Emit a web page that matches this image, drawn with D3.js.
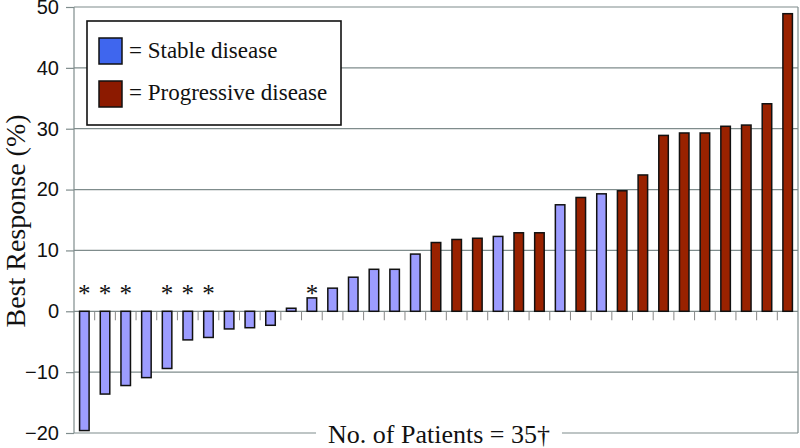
<!DOCTYPE html>
<html>
<head>
<meta charset="utf-8">
<script src="https://cdn.jsdelivr.net/npm/d3@7"></script>
<style>
  body { margin: 0; background: #fff; }
  svg { display: block; }
</style>
</head>
<body>
<svg id="chart" width="800" height="448"></svg>
<script>
// best response per patient, sorted
const responses = [-19.6, -13.6, -12.2, -10.9, -9.4, -4.7, -4.3, -2.9, -2.7, -2.3,
  0.5, 2.2, 3.8, 5.6, 6.9, 6.9, 9.4, 11.3, 11.8, 12.0,
  12.3, 12.9, 12.9, 17.5, 18.7, 19.3, 19.8, 22.4, 28.9, 29.3,
  29.3, 30.4, 30.6, 34.1, 48.9];
// S = stable disease, P = progressive disease
const status = ['S','S','S','S','S','S','S','S','S','S',
  'S','S','S','S','S','S','S','P','P','P',
  'S','P','P','S','P','S','P','P','P','P',
  'P','P','P','P','P'];
const starred = [0, 1, 2, 4, 5, 6, 11];
const yTicks = [-20, -10, 0, 10, 20, 30, 40, 50];
const legendItems = ['= Stable disease', '= Progressive disease'];

const SERIF = '"Liberation Serif", "Times New Roman", Times, serif';
const SANS = '"Liberation Sans", Arial, Helvetica, sans-serif';

const barFill = { S: '#9c9cff', P: '#992200' };
const swatchFill = { S: '#3f66ee', P: '#8c1a00' };

const svg = d3.select('#chart');
const margin = { left: 74, top: 7, right: 2, bottom: 15 };
const W = 800, H = 448;

const x = d3.scaleBand()
  .domain(d3.range(responses.length))
  .range([margin.left, W - margin.right])
  .paddingInner(0.54)
  .paddingOuter(0.27);

const y = d3.scaleLinear()
  .domain([-20, 50])
  .range([H - margin.bottom, margin.top]);

const gridColor = '#7f8c8c';

// gridlines
svg.append('g')
  .selectAll('line')
  .data(yTicks.filter(t => t !== -20))
  .join('line')
  .attr('x1', margin.left)
  .attr('x2', W - margin.right)
  .attr('y1', d => y(d))
  .attr('y2', d => y(d))
  .attr('stroke', gridColor)
  .attr('stroke-width', 1.2);

// frame: left, right, bottom
svg.append('line')
  .attr('x1', margin.left).attr('x2', margin.left)
  .attr('y1', y(50)).attr('y2', y(-20))
  .attr('stroke', gridColor).attr('stroke-width', 1.2);
svg.append('line')
  .attr('x1', W - margin.right).attr('x2', W - margin.right)
  .attr('y1', y(50)).attr('y2', y(-20))
  .attr('stroke', gridColor).attr('stroke-width', 1.2);
svg.append('line')
  .attr('x1', margin.left).attr('x2', W - margin.right)
  .attr('y1', y(-20)).attr('y2', y(-20))
  .attr('stroke', gridColor).attr('stroke-width', 1.2);

// y axis
const yAxis = svg.append('g')
  .attr('transform', `translate(${margin.left},0)`)
  .call(d3.axisLeft(y).tickValues(yTicks).tickSize(8).tickPadding(7));
yAxis.select('.domain').remove();
yAxis.selectAll('line').attr('stroke', gridColor).attr('stroke-width', 1.2);
yAxis.selectAll('text')
  .style('font-family', SANS)
  .style('font-size', '20px')
  .attr('fill', '#111');

// x tick marks at category boundaries below zero line
const step = x.step();
svg.append('g')
  .selectAll('line')
  .data(d3.range(1, responses.length))
  .join('line')
  .attr('x1', i => x(i) - (step - x.bandwidth()) / 2)
  .attr('x2', i => x(i) - (step - x.bandwidth()) / 2)
  .attr('y1', y(0))
  .attr('y2', y(0) + 9)
  .attr('stroke', '#888')
  .attr('stroke-width', 1);

// bars
svg.append('g')
  .selectAll('rect')
  .data(responses)
  .join('rect')
  .attr('x', (d, i) => x(i))
  .attr('width', x.bandwidth())
  .attr('y', d => y(Math.max(0, d)))
  .attr('height', d => Math.abs(y(d) - y(0)))
  .attr('fill', (d, i) => barFill[status[i]])
  .attr('stroke', '#111')
  .attr('stroke-width', 1.5);

// asterisks
svg.append('g')
  .selectAll('text')
  .data(starred)
  .join('text')
  .attr('x', i => x(i) + x.bandwidth() / 2)
  .attr('y', y(0) - 9)
  .attr('text-anchor', 'middle')
  .style('font-family', SERIF)
  .style('font-size', '25px')
  .attr('fill', '#111')
  .text('*');

// legend
const legend = svg.append('g');
legend.append('rect')
  .attr('x', 87).attr('y', 21)
  .attr('width', 254).attr('height', 104)
  .attr('fill', '#fff')
  .attr('stroke', '#111')
  .attr('stroke-width', 1.6);
['S', 'P'].forEach((k, i) => {
  legend.append('rect')
    .attr('x', 99).attr('y', 38 + i * 43)
    .attr('width', 23).attr('height', 26)
    .attr('fill', swatchFill[k])
    .attr('stroke', '#111')
    .attr('stroke-width', 1.5);
  legend.append('text')
    .attr('x', 129).attr('y', 58 + i * 42)
    .style('font-family', SERIF)
    .style('font-size', '23px')
    .attr('fill', '#111')
    .text(legendItems[i]);
});

// y title
svg.append('text')
  .attr('transform', `translate(25,221) rotate(-90)`)
  .attr('text-anchor', 'middle')
  .style('font-family', SERIF)
  .style('font-size', '28px')
  .attr('fill', '#111')
  .text('Best Response (%)');

// x title with white backing over the bottom frame
const xBack = svg.append('rect').attr('fill', '#fff');
const xLabel = svg.append('text')
  .attr('x', 439).attr('y', 443)
  .attr('text-anchor', 'middle')
  .style('font-family', SERIF)
  .style('font-size', '26px')
  .attr('fill', '#111')
  .text('No. of Patients = 35†');
const bb = xLabel.node().getBBox();
xBack
  .attr('x', bb.x - 12).attr('y', bb.y)
  .attr('width', bb.width + 24).attr('height', bb.height);
</script>
</body>
</html>
